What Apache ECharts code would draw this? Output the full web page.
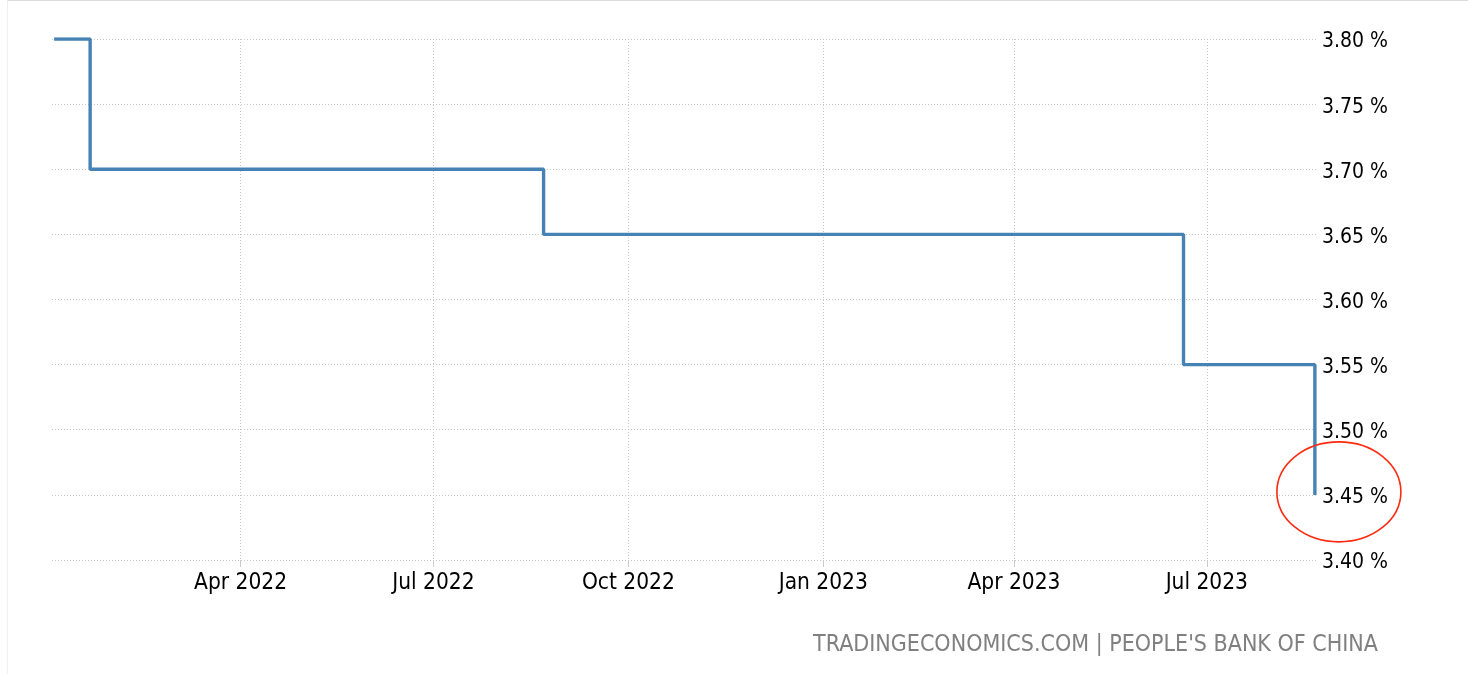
<!DOCTYPE html>
<html>
<head>
<meta charset="utf-8">
<script src="https://cdn.jsdelivr.net/npm/echarts@6/dist/echarts.min.js"></script>
<style>
html,body{margin:0;padding:0;background:#fff;}
#chart{position:absolute;left:0;top:0;width:1470px;height:674px;}
#frame{position:absolute;left:7px;top:0;width:1461px;height:674px;border-top:1px solid #dcdcdc;border-left:1px solid #f0f0f0;box-sizing:border-box;pointer-events:none;}
</style>
</head>
<body>
<div id="chart"></div>
<div id="frame"></div>
<script>
// Data: change dates of the 1-year Loan Prime Rate and their values (%)
const changeDates = ['2022-01-03', '2022-01-20', '2022-08-22', '2023-06-20', '2023-08-21'];
const rateValues = [3.80, 3.70, 3.65, 3.55, 3.45];
// X-axis tick dates and labels
const tickDates = ['2022-04-01', '2022-07-01', '2022-10-01', '2023-01-01', '2023-04-01', '2023-07-01'];
const tickLabels = ['Apr 2022', 'Jul 2022', 'Oct 2022', 'Jan 2023', 'Apr 2023', 'Jul 2023'];
// Y-axis ticks
const yMin = 3.40, yMax = 3.80, yStep = 0.05;
const sourceText = "TRADINGECONOMICS.COM | PEOPLE'S BANK OF CHINA";

const FONT = '"DejaVu Sans Condensed", "DejaVu Sans", sans-serif';
const toTs = s => { const p = s.split('-').map(Number); return Date.UTC(p[0], p[1]-1, p[2]); };
const tickTs = tickDates.map(toTs);
const labelMap = {};
tickTs.forEach((t, i) => labelMap[t] = tickLabels[i]);

const chart = echarts.init(document.getElementById('chart'), null, {renderer: 'canvas'});
const option = {
  animation: false,
  backgroundColor: '#fff',
  title: {
    text: sourceText,
    right: 92, top: 634, padding: 0,
    textStyle: {fontFamily: FONT, fontSize: 23, fontWeight: 'normal', color: '#808080'}
  },
  grid: {left: 52, right: 153, top: 39, bottom: 114, containLabel: false},
  xAxis: {
    type: 'value',
    min: toTs('2022-01-02'),
    max: toTs('2023-08-22'),
    axisLine: {show: false},
    axisTick: {show: true, customValues: tickTs, length: 7, lineStyle: {color: '#cccccc'}},
    axisLabel: {
      customValues: tickTs,
      formatter: v => labelMap[v] || '',
      fontFamily: FONT, fontSize: 22.5, color: '#000', margin: 12
    },
    splitLine: {show: true, lineStyle: {color: '#c8c8c8', type: [1, 2], width: 1}}
  },
  yAxis: {
    type: 'value',
    position: 'right',
    min: yMin, max: yMax, interval: yStep,
    axisLine: {show: false},
    axisTick: {show: false},
    axisLabel: {
      formatter: v => '{v|' + v.toFixed(2) + ' %}',
      margin: 5,
      rich: {v: {fontFamily: FONT, fontSize: 21, color: '#000', padding: [6, 0, 0, 0]}}
    },
    splitLine: {show: true, lineStyle: {color: '#c8c8c8', type: [1, 2], width: 1}}
  },
  series: [{
    type: 'line',
    step: 'end',
    showSymbol: false,
    data: changeDates.map((d, i) => [toTs(d), rateValues[i]]),
    lineStyle: {color: '#4682b4', width: 3.4},
    itemStyle: {color: '#4682b4'}
  }]
};
chart.setOption(option);

// Red annotation ellipse around the latest value label
const last = chart.convertToPixel({gridIndex: 0}, [toTs(changeDates[changeDates.length-1]), rateValues[rateValues.length-1]]);
chart.setOption({
  graphic: [{
    type: 'ellipse',
    shape: {cx: last[0] + 24, cy: last[1] - 3, rx: 62, ry: 50},
    style: {fill: 'none', stroke: '#ff2a10', lineWidth: 1.6},
    z: 100
  }]
});
</script>
</body>
</html>
